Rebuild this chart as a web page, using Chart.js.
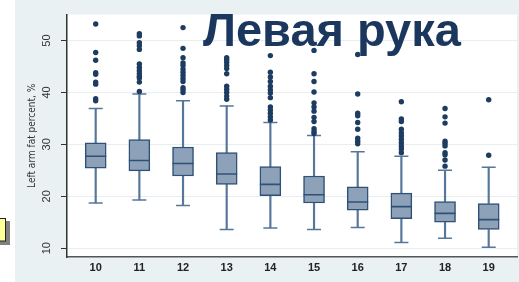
<!DOCTYPE html>
<html>
<head>
<meta charset="utf-8">
<script src="https://cdn.jsdelivr.net/npm/chart.js@4"></script>
<style>
  html, body { margin: 0; padding: 0; background: #ffffff; }
  #wrap { width: 519px; height: 282px; position: relative; }
</style>
</head>
<body>
<div id="wrap"><canvas id="chart"></canvas></div>
<script>
// ===== DATA =====
const ages = [10, 11, 12, 13, 14, 15, 16, 17, 18, 19];
const whiskerLow = [18.7, 19.3, 18.2, 13.6, 13.9, 13.6, 14.0, 11.1, 11.9, 10.2];
const q1 = [25.4, 24.9, 23.9, 22.3, 20.1, 18.7, 17.3, 15.7, 15.0, 13.6];
const median = [27.7, 26.9, 26.3, 24.3, 22.3, 20.3, 18.9, 18.0, 16.7, 15.5];
const q3 = [30.3, 30.9, 29.5, 28.4, 25.7, 23.9, 21.8, 20.6, 19.0, 18.6];
const whiskerHigh = [36.9, 39.7, 38.4, 37.4, 34.2, 31.7, 28.6, 27.7, 25.0, 25.6];
const outliers = [
  [53.2, 47.7, 46.2, 43.8, 43.5, 42.0, 41.6, 38.8, 38.4],
  [51.3, 50.9, 49.6, 49.0, 48.3, 45.5, 44.8, 44.2, 43.6, 43.1, 42.8, 42.0, 40.2],
  [52.5, 48.5, 46.7, 45.7, 45.2, 44.5, 43.9, 43.3, 42.7, 42.1, 40.9, 40.5, 40.0],
  [46.7, 46.3, 45.8, 45.2, 44.6, 43.6, 41.2, 40.6, 40.0, 39.3, 38.7],
  [47.1, 43.9, 43.0, 42.1, 41.2, 40.5, 39.9, 39.0, 37.2, 36.6, 36.0, 35.3, 34.7],
  [48.1, 43.6, 42.1, 40.1, 38.0, 37.2, 36.4, 35.2, 34.4, 33.0, 32.5, 32.1],
  [47.3, 39.7, 36.0, 35.5, 34.2, 32.9, 31.2, 30.6, 30.1],
  [38.2, 34.9, 34.4, 32.9, 32.2, 31.6, 31.0, 30.3, 29.7, 29.1, 28.4],
  [36.9, 35.3, 34.1, 30.6, 30.2, 29.7, 28.4, 28.0, 27.0, 25.8],
  [38.6, 27.9]
];
const yTicks = [10, 20, 30, 40, 50];
const titleText = "Левая рука";
const yTitle = "Left arm fat percent, %";

// ===== COLORS =====
const boxFill = "#8da2b8";
const boxLine = "#2f5077";
const whiskerColor = "#56769a";
const dotColor = "#1d3c61";

// ===== DECORATION PLUGIN =====
const decor = {
  id: "decor",
  beforeDraw(chart) {
    const { ctx, chartArea } = chart;
    ctx.save();
    ctx.fillStyle = "#ffffff";
    ctx.fillRect(0, 0, chart.width, chart.height);
    ctx.fillStyle = "#e9f1f3";
    ctx.fillRect(15, 0, chart.width - 15, chart.height);
    ctx.fillStyle = "#ffffff";
    ctx.fillRect(chartArea.left, chartArea.top, chartArea.right - chartArea.left, chartArea.bottom - chartArea.top);
    // little yellow note box at the left edge
    ctx.fillStyle = "#808080";
    ctx.fillRect(0, 221, 10, 24);
    ctx.fillStyle = "#ffff99";
    ctx.fillRect(-1, 218, 6, 23);
    ctx.strokeStyle = "#222222";
    ctx.lineWidth = 1;
    ctx.strokeRect(-1, 218.5, 6.5, 22.5);
    ctx.restore();
  },
  afterDraw(chart) {
    const ctx = chart.ctx;
    ctx.save();
    ctx.font = "bold 47px 'Liberation Sans', Arial, sans-serif";
    ctx.fillStyle = "#1b375e";
    ctx.textBaseline = "alphabetic";
    ctx.textAlign = "left";
    ctx.fillText(titleText, 203, 46);
    ctx.restore();
  }
};

// ===== DATASETS =====
const pts = (vals) => ages.map((a, i) => ({ x: a, y: vals[i] }));
const outlierPts = [];
outliers.forEach((list, i) => list.forEach((v) => outlierPts.push({ x: ages[i], y: v })));

const datasets = [
  {
    type: "bar",
    data: ages.map((a, i) => ({ x: a, y: [q3[i], whiskerHigh[i]] })),
    backgroundColor: whiskerColor,
    barThickness: 1.5,
    grouped: false,
    order: 5
  },
  {
    type: "bar",
    data: ages.map((a, i) => ({ x: a, y: [whiskerLow[i], q1[i]] })),
    backgroundColor: whiskerColor,
    barThickness: 1.5,
    grouped: false,
    order: 5
  },
  {
    type: "bar",
    data: ages.map((a, i) => ({ x: a, y: [q1[i], q3[i]] })),
    backgroundColor: boxFill,
    borderColor: boxLine,
    borderWidth: 1.5,
    borderSkipped: false,
    barThickness: 21,
    grouped: false,
    order: 4
  },
  {
    type: "line",
    data: pts(median),
    showLine: false,
    pointStyle: "line",
    pointRadius: 10.5,
    pointBorderWidth: 1.6,
    pointBorderColor: boxLine,
    order: 3
  },
  {
    type: "line",
    data: pts(whiskerHigh).concat(pts(whiskerLow)),
    showLine: false,
    pointStyle: "line",
    pointRadius: 7,
    pointBorderWidth: 1.5,
    pointBorderColor: whiskerColor,
    order: 3
  },
  {
    type: "line",
    data: outlierPts,
    showLine: false,
    pointStyle: "circle",
    pointRadius: 2.7,
    pointBorderWidth: 0,
    pointBackgroundColor: dotColor,
    order: 2
  }
];

// ===== CHART =====
new Chart(document.getElementById("chart").getContext("2d"), {
  type: "bar",
  data: { datasets },
  plugins: [decor],
  options: {
    responsive: true,
    maintainAspectRatio: false,
    animation: false,
    layout: { autoPadding: false, padding: { left: 0, right: 2, top: 12, bottom: 0 } },
    plugins: {
      legend: { display: false },
      tooltip: { enabled: false }
    },
    scales: {
      x: {
        type: "linear",
        offset: false,
        min: 9.343,
        max: 19.648,
        afterBuildTicks: (scale) => { scale.ticks = ages.map((v) => ({ value: v })); },
        afterFit: (scale) => {
          scale.height = 25;
          scale.paddingRight = 0;
          scale.paddingLeft = 0;
        },
        grid: { display: false, drawTicks: false },
        border: { color: "#555555", width: 1.5 },
        ticks: {
          padding: 4,
          color: "#222222",
          font: { family: "'Liberation Sans', Arial, sans-serif", size: 11, weight: "bold" }
        }
      },
      y: {
        min: 8.3,
        max: 55,
        afterBuildTicks: (scale) => { scale.ticks = yTicks.map((v) => ({ value: v })); },
        afterFit: (scale) => { scale.width = 67; },
        grid: { color: "#e6eef0", lineWidth: 1, tickColor: "#333333", tickLength: 6 },
        border: { color: "#333333", width: 1.5 },
        title: {
          display: true,
          text: yTitle,
          color: "#333333",
          padding: { top: 26, bottom: 0 },
          font: { family: "'Liberation Sans Narrow', 'DejaVu Sans Condensed', sans-serif", size: 10 }
        },
        ticks: {
          minRotation: 90,
          maxRotation: 90,
          crossAlign: "center",
          padding: 8,
          color: "#333333",
          font: { family: "'Liberation Sans', Arial, sans-serif", size: 11 }
        }
      }
    }
  }
});
</script>
</body>
</html>
